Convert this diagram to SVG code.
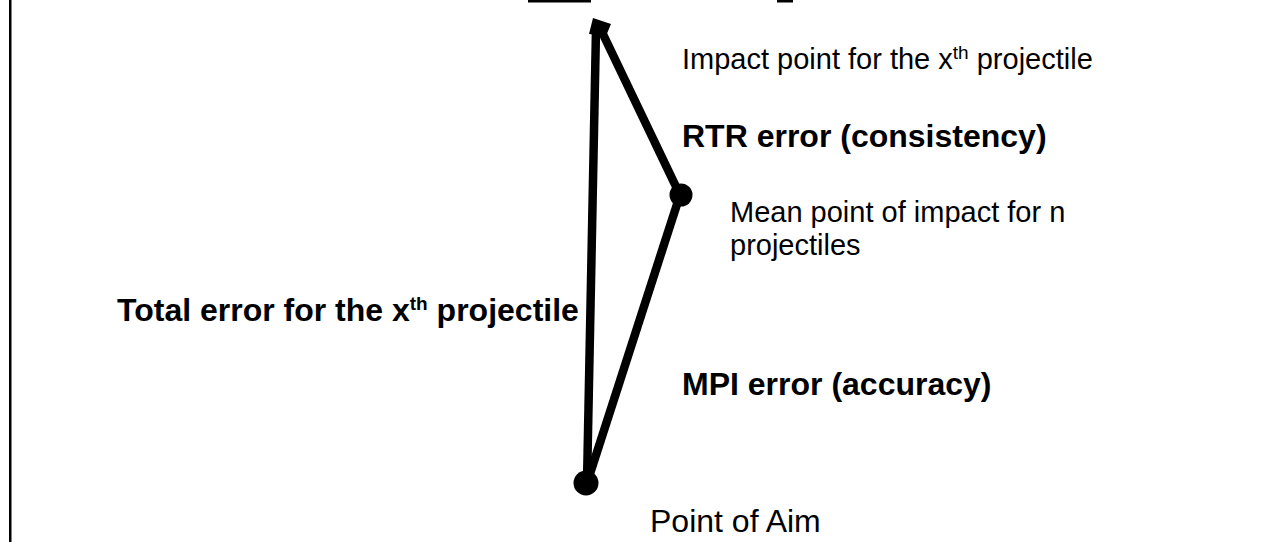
<svg xmlns="http://www.w3.org/2000/svg" width="1270" height="542" viewBox="0 0 1270 542">
  <style>
    .lbl { font-family: "Liberation Sans", Arial, sans-serif; fill: #000; }
    .reg { font-size: 29px; }
    .big { font-size: 32px; }
    .bold { font-size: 32px; font-weight: bold; }
    .sup { font-size: 19px; }
    .edge { stroke: #000; stroke-width: 8.5; stroke-linecap: butt; fill: none; }
  </style>
  <rect x="0" y="0" width="1270" height="542" fill="#fff"/>
  <!-- page frame edge and underlines of the heading line above -->
  <rect x="9" y="0" width="2.5" height="542" fill="#000"/>
  <rect x="528" y="0" width="63" height="2.5" fill="#000"/>
  <rect x="777" y="0" width="16" height="2.5" fill="#000"/>

  <g id="connectors">
    <line class="edge" x1="587" y1="483" x2="596" y2="30"/>
    <line class="edge" x1="680" y1="195" x2="601" y2="30"/>
    <line class="edge" x1="680" y1="195" x2="587" y2="483"/>
    <polygon points="593,18 611,24 606,36 589,34" fill="#000"/>
  </g>

  <g id="impact-point">
    <text class="lbl reg" x="682" y="69">Impact point for the x<tspan class="sup" dy="-10">th</tspan><tspan dy="10"> projectile</tspan></text>
  </g>
  <g id="rtr-error">
    <text class="lbl bold" x="682" y="147">RTR error (consistency)</text>
  </g>
  <g id="mean-point">
    <circle cx="681" cy="195" r="11.5" fill="#000"/>
    <text class="lbl reg" x="730" y="222">Mean point of impact for n</text>
    <text class="lbl reg" x="730" y="255">projectiles</text>
  </g>
  <g id="total-error">
    <text class="lbl bold" x="117" y="321">Total error for the x<tspan class="sup" font-size="21" dy="-11">th</tspan><tspan dy="11"> projectile</tspan></text>
  </g>
  <g id="mpi-error">
    <text class="lbl bold" x="682" y="395">MPI error (accuracy)</text>
  </g>
  <g id="point-of-aim">
    <circle cx="586" cy="483" r="12.5" fill="#000"/>
    <text class="lbl big" x="650" y="532">Point of Aim</text>
  </g>
</svg>
